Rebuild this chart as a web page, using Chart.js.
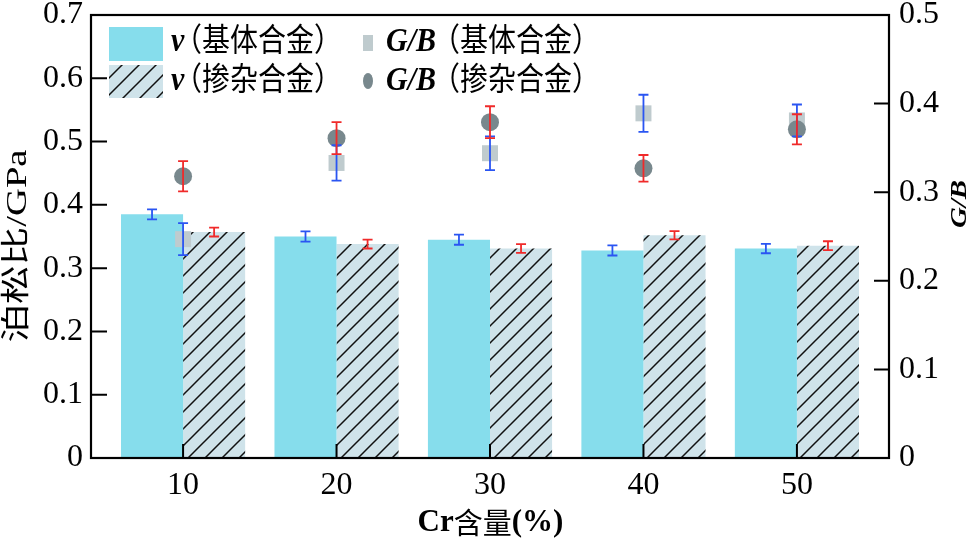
<!DOCTYPE html>
<html>
<head>
<meta charset="utf-8">
<script src="https://cdn.jsdelivr.net/npm/chart.js@4.4.1/dist/chart.umd.min.js"></script>
<style>
  html, body { margin: 0; padding: 0; background: #fff; }
  #wrap { width: 973px; height: 540px; position: relative; }
</style>
</head>
<body>
<div id="wrap"><canvas id="chart"></canvas></div>
<script>
// Cr content categories and the four series
const crContent = [10, 20, 30, 40, 50];
const poissonBase = [0.385, 0.350, 0.345, 0.328, 0.331];
const poissonBaseErr = [0.008, 0.008, 0.008, 0.008, 0.0075];
const poissonDoped = [0.357, 0.338, 0.331, 0.352, 0.3355];
const poissonDopedErr = [0.007, 0.007, 0.007, 0.0065, 0.007];
const gbBase = [0.247, 0.333, 0.344, 0.389, 0.381];
const gbBaseErr = [0.018, 0.020, 0.019, 0.021, 0.018];
const gbDoped = [0.318, 0.361, 0.379, 0.327, 0.371];
const gbDopedErr = [0.017, 0.018, 0.018, 0.015, 0.017];
const leftTicks = [0, 0.1, 0.2, 0.3, 0.4, 0.5, 0.6, 0.7];
const rightTicks = [0, 0.1, 0.2, 0.3, 0.4, 0.5];

const SERIF = '"Liberation Serif", "Times New Roman", serif';
const CJK = '"Noto Sans CJK SC", sans-serif';
const BLUE_ERR = '#2a55f2';
const RED_ERR = '#f02a2a';

function makeHatch() {
    const size = 17;
    const c = document.createElement('canvas');
    c.width = size;
    c.height = size;
    const g = c.getContext('2d');
    g.fillStyle = '#cfe3ea';
    g.fillRect(0, 0, size, size);
    g.strokeStyle = '#111';
    g.lineWidth = 1.5;
    g.beginPath();
    g.moveTo(0, size); g.lineTo(size, 0);
    g.moveTo(-size / 2, size / 2); g.lineTo(size / 2, -size / 2);
    g.moveTo(size / 2, size * 1.5); g.lineTo(size * 1.5, size / 2);
    g.stroke();
    return g.createPattern(c, 'repeat');
}
const hatch = makeHatch();

const toPoints = (ys) => crContent.map((x, i) => ({ x, y: ys[i] }));

// error bars, inward ticks and frame
const decorPlugin = {
    id: 'decor',
    afterDatasetsDraw(chart) {
        const { ctx, chartArea: a } = chart;
        ctx.save();
        chart.data.datasets.forEach((ds, i) => {
            if (!ds.errors) return;
            const meta = chart.getDatasetMeta(i);
            const yScale = chart.scales[meta.yAxisID];
            ctx.strokeStyle = ds.errorColor;
            ctx.lineWidth = 1.8;
            meta.data.forEach((el, j) => {
                const v = ds.data[j].y;
                const top = yScale.getPixelForValue(v + ds.errors[j]);
                const bot = yScale.getPixelForValue(v - ds.errors[j]);
                const x = el.x;
                ctx.beginPath();
                ctx.moveTo(x, top); ctx.lineTo(x, bot);
                ctx.moveTo(x - 5, top); ctx.lineTo(x + 5, top);
                ctx.moveTo(x - 5, bot); ctx.lineTo(x + 5, bot);
                ctx.stroke();
            });
        });

        ctx.strokeStyle = '#000';
        ctx.lineWidth = 2;
        ctx.beginPath();
        leftTicks.forEach(v => {
            const y = chart.scales.y.getPixelForValue(v);
            ctx.moveTo(a.left, y); ctx.lineTo(a.left + 16, y);
        });
        rightTicks.forEach(v => {
            const y = chart.scales.y2.getPixelForValue(v);
            ctx.moveTo(a.right, y); ctx.lineTo(a.right - 15, y);
        });
        crContent.forEach(v => {
            const x = chart.scales.x.getPixelForValue(v);
            ctx.moveTo(x, a.bottom); ctx.lineTo(x, a.bottom - 14);
        });
        ctx.stroke();
        ctx.lineWidth = 2.2;
        ctx.strokeRect(a.left, a.top, a.right - a.left, a.bottom - a.top);
        ctx.restore();
    },
    afterDraw(chart) {
        const ctx = chart.ctx;
        ctx.save();
        ctx.textBaseline = 'middle';

        // legend
        const ds = chart.data.datasets;
        ctx.fillStyle = ds[0].backgroundColor;
        ctx.fillRect(109, 27, 54, 34);
        ctx.fillStyle = ds[1].backgroundColor;
        ctx.fillRect(109, 65, 54, 33);
        ctx.fillStyle = ds[2].backgroundColor;
        ctx.fillRect(363, 35, 10, 16);
        ctx.fillStyle = ds[3].backgroundColor;
        ctx.beginPath();
        ctx.ellipse(368, 81, 5, 8, 0, 0, Math.PI * 2);
        ctx.fill();

        ctx.fillStyle = '#000';
        const legendText = (x, y, latin, cjk, cjkX) => {
            ctx.save();
            ctx.textAlign = 'left';
            ctx.translate(0, y);
            ctx.scale(1, 1.15);
            ctx.font = 'italic bold 30px ' + SERIF;
            ctx.fillText(latin, x, 1);
            ctx.font = '28px ' + CJK;
            ctx.fillText(cjk, cjkX, -2);
            ctx.restore();
        };
        legendText(171, 41, 'ν', '（基体合金）', 174);
        legendText(171, 80, 'ν', '（掺杂合金）', 174);
        legendText(386, 41, 'G/B', '（基体合金）', 432);
        legendText(386, 80, 'G/B', '（掺杂合金）', 432);

        // left axis title, stretched along its length like the original
        ctx.save();
        ctx.translate(18, 246);
        ctx.rotate(-Math.PI / 2);
        ctx.font = '29px ' + SERIF + ', ' + CJK;
        const lw = ctx.measureText('泊松比/GPa').width;
        ctx.scale(193 / lw, 1);
        ctx.textAlign = 'center';
        ctx.fillText('泊松比/GPa', 0, 0);
        ctx.restore();

        // right axis title
        ctx.save();
        ctx.translate(960, 204);
        ctx.rotate(-Math.PI / 2);
        ctx.font = 'italic bold 23px ' + SERIF;
        const rw = ctx.measureText('G/B').width;
        ctx.scale(48 / rw, 1);
        ctx.textAlign = 'center';
        ctx.fillText('G/B', 0, 0);
        ctx.restore();

        // x axis title
        const parts = [
            ['Cr', 'bold 31px ' + SERIF],
            ['含量', '29px ' + CJK],
            ['(%)', 'bold 31px ' + SERIF]
        ];
        let total = 0;
        parts.forEach(p => { ctx.font = p[1]; total += ctx.measureText(p[0]).width; });
        let px = 490.5 - total / 2;
        ctx.textAlign = 'left';
        parts.forEach(p => {
            ctx.font = p[1];
            ctx.fillText(p[0], px, 523);
            px += ctx.measureText(p[0]).width;
        });
        ctx.restore();
    }
};

const tickFont = { family: SERIF, size: 32 };

new Chart(document.getElementById('chart'), {
    type: 'bar',
    data: {
        datasets: [
            {
                type: 'bar',
                label: 'ν（基体合金）',
                data: toPoints(poissonBase),
                backgroundColor: '#86ddec',
                errors: poissonBaseErr,
                errorColor: BLUE_ERR,
                yAxisID: 'y',
                order: 3
            },
            {
                type: 'bar',
                label: 'ν（掺杂合金）',
                data: toPoints(poissonDoped),
                backgroundColor: hatch,
                errors: poissonDopedErr,
                errorColor: RED_ERR,
                yAxisID: 'y',
                order: 3
            },
            {
                type: 'scatter',
                label: 'G/B（基体合金）',
                data: toPoints(gbBase),
                pointStyle: 'rect',
                pointRadius: 11.3,
                backgroundColor: '#bfcbce',
                borderWidth: 0,
                errors: gbBaseErr,
                errorColor: BLUE_ERR,
                yAxisID: 'y2',
                order: 2
            },
            {
                type: 'scatter',
                label: 'G/B（掺杂合金）',
                data: toPoints(gbDoped),
                pointStyle: 'circle',
                pointRadius: 9,
                backgroundColor: '#78888d',
                borderWidth: 0,
                errors: gbDopedErr,
                errorColor: RED_ERR,
                yAxisID: 'y2',
                order: 1
            }
        ]
    },
    options: {
        responsive: true,
        maintainAspectRatio: false,
        animation: false,
        layout: { padding: { top: 15, left: 0, right: 0, bottom: 0 } },
        datasets: { bar: { categoryPercentage: 0.809, barPercentage: 1 } },
        plugins: { legend: { display: false }, tooltip: { enabled: false } },
        scales: {
            x: {
                type: 'linear',
                position: 'bottom',
                offset: false,
                min: 4,
                max: 56,
                afterBuildTicks: s => { s.ticks = crContent.map(v => ({ value: v })); },
                grid: { display: false, drawTicks: false, offset: false },
                border: { display: false },
                ticks: { font: tickFont, color: '#000', padding: 8 },
                afterFit: s => { s.height = 82; s.paddingLeft = 0; s.paddingRight = 0; }
            },
            y: {
                position: 'left',
                min: 0,
                max: 0.7,
                afterBuildTicks: s => { s.ticks = leftTicks.map(v => ({ value: v })); },
                grid: { display: false, drawTicks: false },
                border: { display: false },
                ticks: { font: tickFont, color: '#000', padding: 8 },
                afterFit: s => { s.width = 91; s.paddingTop = 0; s.paddingBottom = 0; }
            },
            y2: {
                position: 'right',
                min: 0,
                max: 0.5,
                afterBuildTicks: s => { s.ticks = rightTicks.map(v => ({ value: v })); },
                grid: { display: false, drawTicks: false },
                border: { display: false },
                ticks: { font: tickFont, color: '#000', padding: 10 },
                afterFit: s => { s.width = 84; s.paddingTop = 0; s.paddingBottom = 0; }
            }
        }
    },
    plugins: [decorPlugin]
});
</script>
</body>
</html>
